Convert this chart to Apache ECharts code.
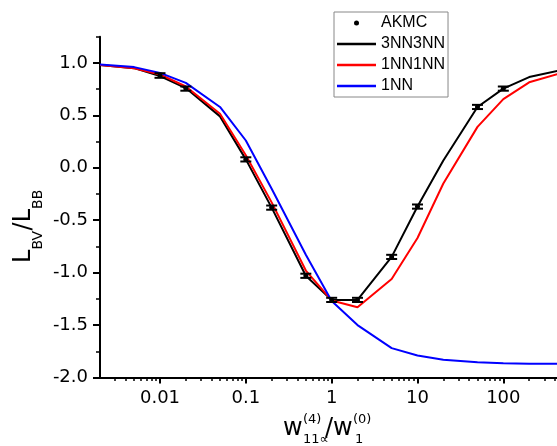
<!DOCTYPE html>
<html>
<head>
<meta charset="utf-8">
<script src="https://cdn.jsdelivr.net/npm/echarts@6/dist/echarts.min.js"></script>
<style>
html,body{margin:0;padding:0;background:#fff;}
#chart{width:557px;height:446px;}
</style>
</head>
<body>
<div id="chart"></div>
<script>
// ---- data ----
const xValues = [0.002, 0.005, 0.01, 0.02, 0.05, 0.1, 0.2, 0.5, 1, 2, 5, 10, 20, 50, 100, 200, 500];
const line3NN3NN = [0.98, 0.95, 0.875, 0.76, 0.49, 0.08, -0.38, -1.03, -1.26, -1.26, -0.85, -0.37, 0.07, 0.58, 0.755, 0.865, 0.935];
const line1NN1NN = [0.98, 0.95, 0.89, 0.775, 0.515, 0.12, -0.33, -0.98, -1.265, -1.33, -1.06, -0.67, -0.15, 0.39, 0.655, 0.815, 0.91];
const line1NN    = [0.985, 0.96, 0.905, 0.81, 0.58, 0.26, -0.2, -0.83, -1.27, -1.5, -1.72, -1.79, -1.83, -1.855, -1.865, -1.87, -1.87];

const akmcX   = [0.01, 0.02, 0.1, 0.2, 0.5, 1, 2, 5, 10, 50, 100];
const akmcY   = [0.88, 0.755, 0.08, -0.38, -1.03, -1.26, -1.26, -0.85, -0.37, 0.58, 0.755];
const akmcErr = [0.022, 0.02, 0.02, 0.02, 0.02, 0.02, 0.02, 0.02, 0.02, 0.02, 0.02];

const xTickValues  = [0.01, 0.1, 1, 10, 100];
const xMinorValues = [0.003, 0.004, 0.005, 0.006, 0.007, 0.008, 0.009,
                      0.02, 0.03, 0.04, 0.05, 0.06, 0.07, 0.08, 0.09,
                      0.2, 0.3, 0.4, 0.5, 0.6, 0.7, 0.8, 0.9,
                      2, 3, 4, 5, 6, 7, 8, 9,
                      20, 30, 40, 50, 60, 70, 80, 90,
                      200, 300, 400];
const yTickValues  = [-2, -1.5, -1, -0.5, 0, 0.5, 1];
const yMinorValues = [-1.75, -1.25, -0.75, -0.25, 0.25, 0.75, 1.25];

const seriesNames = ['AKMC', '3NN3NN', '1NN1NN', '1NN'];

// ---- chart ----
const chart = echarts.init(document.getElementById('chart'), null, {renderer: 'canvas'});
const pair = (xs, ys) => xs.map((x, i) => [x, ys[i]]);

const TICKFONT = 'DejaVu Sans';
const TFONT = 'DejaVu Sans';
const X_MIN = 0.002, X_MAX = 422;
const LINE_ICON = 'path://M0,0H40V2.6H0Z';

function txt(x, y, s, size) {
  return {type: 'text', x: x, y: y, style: {text: s, fontFamily: TFONT, fontSize: size, fill: '#000',
    align: 'left', verticalAlign: 'middle', textAlign: 'left', textVerticalAlign: 'middle'}};
}

const option = {
  animation: false,
  backgroundColor: '#fff',
  grid: {left: 100, right: 0, top: 36.7, bottom: 68.5, containLabel: false},
  legend: {
    orient: 'vertical',
    left: 334, top: 12,
    padding: [3, 3, 3, 3],
    itemGap: 5,
    itemWidth: 39, itemHeight: 5,
    itemTextGap: 5,
    borderColor: '#888', borderWidth: 1,
    textStyle: {fontFamily: 'Liberation Sans', fontSize: 16, color: '#000', lineHeight: 16},
    data: [
      {name: 'AKMC', icon: 'circle'},
      {name: '3NN3NN', icon: LINE_ICON},
      {name: '1NN1NN', icon: LINE_ICON},
      {name: '1NN', icon: LINE_ICON}
    ]
  },
  xAxis: [{
    type: 'log', min: X_MIN, max: X_MAX, position: 'bottom',
    axisLine: {show: true, onZero: false, lineStyle: {color: '#000', width: 2}},
    axisTick: {show: true, inside: false, length: 6, customValues: xTickValues, lineStyle: {color: '#000', width: 2}},
    axisLabel: {show: true, customValues: xTickValues, margin: 12, color: '#000', fontFamily: TICKFONT, fontSize: 18,
      formatter: v => String(parseFloat(Number(v).toPrecision(6)))},
    splitLine: {show: false}, minorTick: {show: false}
  }, {
    type: 'log', min: X_MIN, max: X_MAX, position: 'bottom', offset: 0,
    axisLine: {show: false, onZero: false},
    axisTick: {show: true, inside: false, length: 3.5, customValues: xMinorValues, lineStyle: {color: '#000', width: 1.5}},
    axisLabel: {show: false},
    splitLine: {show: false}
  }],
  yAxis: [{
    type: 'value', min: -2, max: 1.25, position: 'left',
    axisLine: {show: true, onZero: false, lineStyle: {color: '#000', width: 2}},
    axisTick: {show: true, inside: false, length: 7, customValues: yTickValues, lineStyle: {color: '#000', width: 2}},
    axisLabel: {show: true, customValues: yTickValues, margin: 12, color: '#000', fontFamily: TICKFONT, fontSize: 18,
      formatter: v => Number(v).toFixed(1)},
    splitLine: {show: false}
  }, {
    type: 'value', min: -2, max: 1.25, position: 'left', offset: 0,
    axisLine: {show: false, onZero: false},
    axisTick: {show: true, inside: false, length: 4, customValues: yMinorValues, lineStyle: {color: '#000', width: 1.5}},
    axisLabel: {show: false},
    splitLine: {show: false}
  }],
  series: [
    {name: seriesNames[1], type: 'line', data: pair(xValues, line3NN3NN), symbol: 'none', clip: true,
     lineStyle: {color: '#000000', width: 2}, itemStyle: {color: '#000000'}, z: 2},
    {name: seriesNames[2], type: 'line', data: pair(xValues, line1NN1NN), symbol: 'none', clip: true,
     lineStyle: {color: '#ff0000', width: 2}, itemStyle: {color: '#ff0000'}, z: 2},
    {name: seriesNames[3], type: 'line', data: pair(xValues, line1NN), symbol: 'none', clip: true,
     lineStyle: {color: '#0000ff', width: 2}, itemStyle: {color: '#0000ff'}, z: 2},
    {name: seriesNames[0], type: 'custom', z: 4,
     itemStyle: {color: '#000'},
     encode: {x: 0, y: 1},
     data: akmcX.map((x, i) => [x, akmcY[i], akmcErr[i]]),
     renderItem: function (params, api) {
       const x = api.value(0), y = api.value(1), e = api.value(2);
       const p = api.coord([x, y]);
       const t = api.coord([x, y + e]);
       const b = api.coord([x, y - e]);
       const hw = 5.5;
       return {type: 'group', children: [
         {type: 'line', shape: {x1: p[0], y1: t[1], x2: p[0], y2: b[1]}, style: {stroke: '#000', lineWidth: 1.5}},
         {type: 'line', shape: {x1: p[0] - hw, y1: t[1], x2: p[0] + hw, y2: t[1]}, style: {stroke: '#000', lineWidth: 2}},
         {type: 'line', shape: {x1: p[0] - hw, y1: b[1], x2: p[0] + hw, y2: b[1]}, style: {stroke: '#000', lineWidth: 2}},
         {type: 'circle', shape: {cx: p[0], cy: p[1], r: 2.5}, style: {fill: '#000'}}
       ]};
     }}
  ],
  graphic: [
    // y axis title  L_BV / L_BB (rotated)
    {type: 'group', x: 32, y: 263, rotation: Math.PI / 2, children: [
      txt(0, -8.4, 'L', 24),
      txt(13.4, 6, 'BV', 14),
      txt(32.6, -8.4, '/L', 24),
      txt(54.1, 6, 'BB', 14)
    ]},
    // x axis title  w^(4)_{11∝} / w^(0)_1
    txt(283, 429, 'w', 24),
    txt(303, 420, '(4)', 13),
    txt(303, 440, '11∝', 13),
    txt(325, 429, '/w', 24),
    txt(353, 420, '(0)', 13),
    txt(355, 440, '1', 13)
  ]
};
chart.setOption(option);
</script>
</body>
</html>
